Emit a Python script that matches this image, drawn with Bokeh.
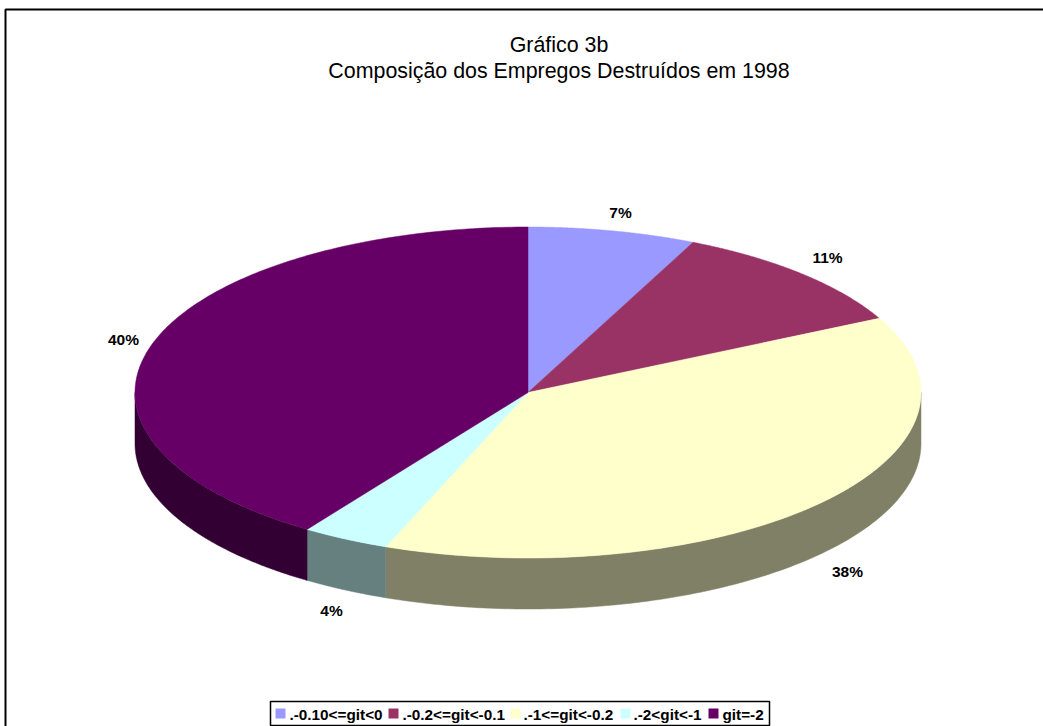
import math
from bokeh.plotting import figure
from bokeh.models import Range1d
from bokeh.core.properties import value
from bokeh.embed import file_html
from bokeh.resources import INLINE

title_lines = ["Gráfico 3b", "Composição dos Empregos Destruídos em 1998"]
categories = [".-0.10<=git<0", ".-0.2<=git<-0.1", ".-1<=git<-0.2", ".-2<git<-1", "git=-2"]
shares = [6.9, 10.7, 38.3, 3.6, 40.5]
share_labels = ["7%", "11%", "38%", "4%", "40%"]
top_colors = ["#9999FF", "#993366", "#FFFFCC", "#CCFFFF", "#660066"]
wall_colors = ["#4C4C80", "#4C1A33", "#808066", "#668080", "#330033"]

W, H = 1043, 726
CX, CY, RX, RY, DEPTH = 527.5, 392.0, 393.0, 165.5, 51.0
FONT = "Liberation Sans"

p = figure(width=W, height=H, output_backend="svg", toolbar_location=None,
           x_range=Range1d(0, W), y_range=Range1d(H, 0), min_border=0,
           background_fill_color="white", border_fill_color="white", outline_line_color=None)
p.styles = {"position": "absolute", "left": "0px", "top": "0px"}
p.axis.visible = False
p.grid.visible = False


def ellipse_point(deg, dy=0.0):
    t = math.radians(deg)
    return CX + RX * math.sin(t), CY - RY * math.cos(t) + dy


total = sum(shares)
bounds, run = [0.0], 0.0
for s in shares:
    run += s
    bounds.append(run / total * 360)

# side walls: only the near half of the rim (90..270 degrees) can be seen
for i in range(len(shares)):
    a, b = max(bounds[i], 90), min(bounds[i + 1], 270)
    if a >= b:
        continue
    steps = [a + (b - a) * k / 120 for k in range(121)]
    upper = [ellipse_point(d) for d in steps]
    lower = [ellipse_point(d, DEPTH) for d in reversed(steps)]
    pts = upper + lower
    p.patch([q[0] for q in pts], [q[1] for q in pts], fill_color=wall_colors[i],
            line_color=wall_colors[i], line_width=0.5)

# top face
for i in range(len(shares)):
    a, b = bounds[i], bounds[i + 1]
    steps = [a + (b - a) * k / 180 for k in range(181)]
    pts = [(CX, CY)] + [ellipse_point(d) for d in steps]
    p.patch([q[0] for q in pts], [q[1] for q in pts], fill_color=top_colors[i],
            line_color=top_colors[i], line_width=0.5)

# slice labels
label_x = [620, 827, 847, 331, 123]
label_y = [212, 257, 571, 610, 339]
p.text(label_x, label_y, text=share_labels, text_font=value(FONT), text_font_style="bold",
       text_font_size="15.5px", text_color="#000000", text_align="center", text_baseline="middle")

# title
p.text([558.5, 558.5], [44.5, 70], text=title_lines, text_font=value(FONT),
       text_font_size="21.4px", text_color="#000000", text_align="center", text_baseline="middle")

# outer frame
p.line([5, 5, W], [H, 9, 9], line_color="#000000", line_width=2)

# legend
p.quad(left=[270], right=[769], top=[701], bottom=[725], fill_color="white",
       line_color="#000000", line_width=1.5)
swatch_x = [280, 393, 515, 625, 713]
text_x = [289, 402, 523, 633, 722]
p.rect(swatch_x, [713] * 5, width=10, height=10, fill_color=top_colors, line_color=None)
p.text(text_x, [713.5] * 5, text=categories, text_font=value(FONT), text_font_style="bold",
       text_font_size="15.3px", text_color="#000000", text_align="left", text_baseline="middle")

open("out.html", "w").write(file_html(p, INLINE))
